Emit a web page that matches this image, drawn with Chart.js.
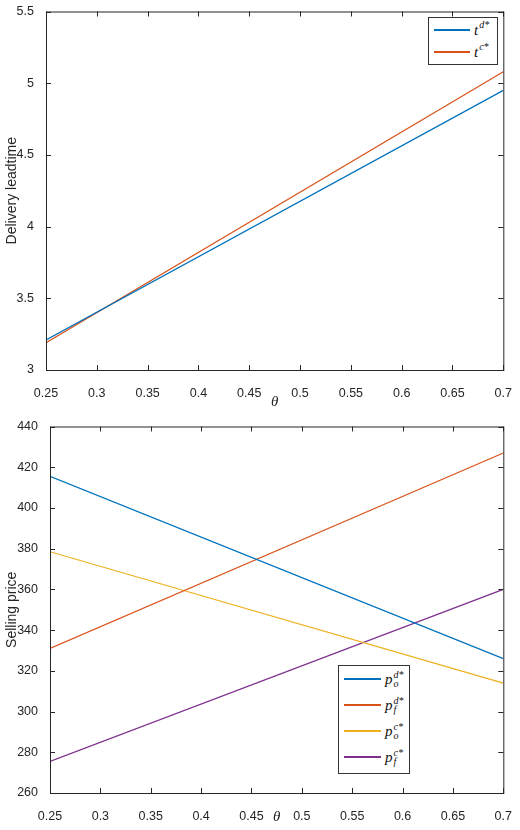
<!DOCTYPE html>
<html><head><meta charset="utf-8">
<script src="https://cdn.jsdelivr.net/npm/chart.js@4"></script>
<style>
body{margin:0;width:520px;height:830px;position:relative;background:#fff;font-family:"Liberation Sans",Arial,sans-serif}
.wrap{position:absolute;left:0;width:520px;height:415px}
.leg{position:absolute;background:#fff;border:1px solid #333;font-family:"Liberation Serif",serif;font-style:italic;font-size:15px;color:#111}
.leg div{display:flex;align-items:center;padding-left:5px}
.leg span.l{display:inline-block;height:1.5px;margin-right:4px}
.ss{display:inline-flex;flex-direction:column;line-height:9px;font-size:10px;margin-left:1px}
.sp{font-size:10px;position:relative;top:-6px;margin-left:1px}
</style></head><body>
<div class="wrap" style="top:0"><canvas id="c1" width="520" height="415"></canvas></div>
<div class="wrap" style="top:415px"><canvas id="c2" width="520" height="415"></canvas></div>
<div class="leg" style="left:428px;top:17px;width:68px;height:46px">
 <div style="height:22px;margin-top:1px"><span class="l" style="background:#0072bd;width:36px"></span>t<span class="sp">d*</span></div>
 <div style="height:22px"><span class="l" style="background:#d95319;width:36px"></span>t<span class="sp">c*</span></div>
</div>
<div class="leg" style="left:338px;top:665px;width:70px;height:107px">
 <div style="height:26px"><span class="l" style="background:#0072bd;width:37px"></span>p<span class="ss"><span>d*</span><span>o</span></span></div>
 <div style="height:26px"><span class="l" style="background:#d95319;width:37px"></span>p<span class="ss"><span>d*</span><span>f</span></span></div>
 <div style="height:26px"><span class="l" style="background:#edb120;width:37px"></span>p<span class="ss"><span>c*</span><span>o</span></span></div>
 <div style="height:26px"><span class="l" style="background:#7e2f8e;width:37px"></span>p<span class="ss"><span>c*</span><span>f</span></span></div>
</div>
<script>
const theta = [0.25, 0.7];
const tD = [3.21, 4.95];
const tC = [3.19, 5.08];
const poD = [415.5, 326];
const pfD = [331, 427];
const poC = [378.5, 314];
const pfC = [275.5, 360];
const xTicks = [0.25,0.3,0.35,0.4,0.45,0.5,0.55,0.6,0.65,0.7];

const boxPlugin = {
  id:'box',
  afterDraw(ch){
    const {ctx, chartArea:a, scales} = ch;
    ctx.save(); ctx.strokeStyle='#262626'; ctx.lineWidth=1;
    ctx.strokeRect(a.left+0.5,a.top+0.5,a.right-a.left,a.bottom-a.top);
    ctx.beginPath();
    scales.x.ticks.forEach(t=>{const p=Math.round(scales.x.getPixelForValue(t.value))+0.5;
      ctx.moveTo(p,a.bottom);ctx.lineTo(p,a.bottom-5);ctx.moveTo(p,a.top);ctx.lineTo(p,a.top+5);});
    scales.y.ticks.forEach(t=>{const p=Math.round(scales.y.getPixelForValue(t.value))+0.5;
      ctx.moveTo(a.left,p);ctx.lineTo(a.left+5,p);ctx.moveTo(a.right,p);ctx.lineTo(a.right-5,p);});
    ctx.stroke(); ctx.restore();
  }
};
const font = {family:'"Liberation Sans",Arial,sans-serif', size:12.5};
function ser(ys,color){return {data:theta.map((x,i)=>({x,y:ys[i]})),borderColor:color,borderWidth:1.2,pointRadius:0,tension:0};}
function make(id, sets, yopt, ylabel, yw, xh, padTop){
  new Chart(document.getElementById(id),{
    type:'line', data:{datasets:sets}, plugins:[boxPlugin],
    options:{responsive:false,animation:false,
      layout:{padding:{top:padTop,right:11,left:0,bottom:0}},
      plugins:{legend:{display:false},tooltip:{enabled:false}},
      scales:{
        x:{type:'linear',min:0.25,max:0.7,grid:{display:false},border:{display:false},
          afterBuildTicks(s){s.ticks=xTicks.map(v=>({value:v}));},
          afterFit(s){s.height=xh;},
          ticks:{color:'#262626',font,padding:8,maxRotation:0,callback:v=>String(v)},
          title:{display:true,text:'θ',font:{family:'"Liberation Serif",serif',size:15,style:'italic'},color:'#262626',padding:{top:2}}},
        y:Object.assign({type:'linear',grid:{display:false},border:{display:false},
          afterFit(s){s.width=yw;},
          title:{display:true,text:ylabel,font:{family:'"Liberation Sans",Arial,sans-serif',size:14},color:'#262626',padding:{bottom:2}}},yopt)
      }}
  });
}
make('c1',[ser(tD,'#0072bd'),ser(tC,'#d95319')],{min:3,max:5.5,ticks:{color:'#262626',font,padding:4,stepSize:0.5,callback:v=>String(v)}},'Delivery leadtime',46,45,7);
make('c2',[ser(poD,'#0072bd'),ser(pfD,'#d95319'),ser(poC,'#edb120'),ser(pfC,'#7e2f8e')],{min:260,max:440,ticks:{color:'#262626',font,padding:4,stepSize:20}},'Selling price',50,37,9);
</script></body></html>
